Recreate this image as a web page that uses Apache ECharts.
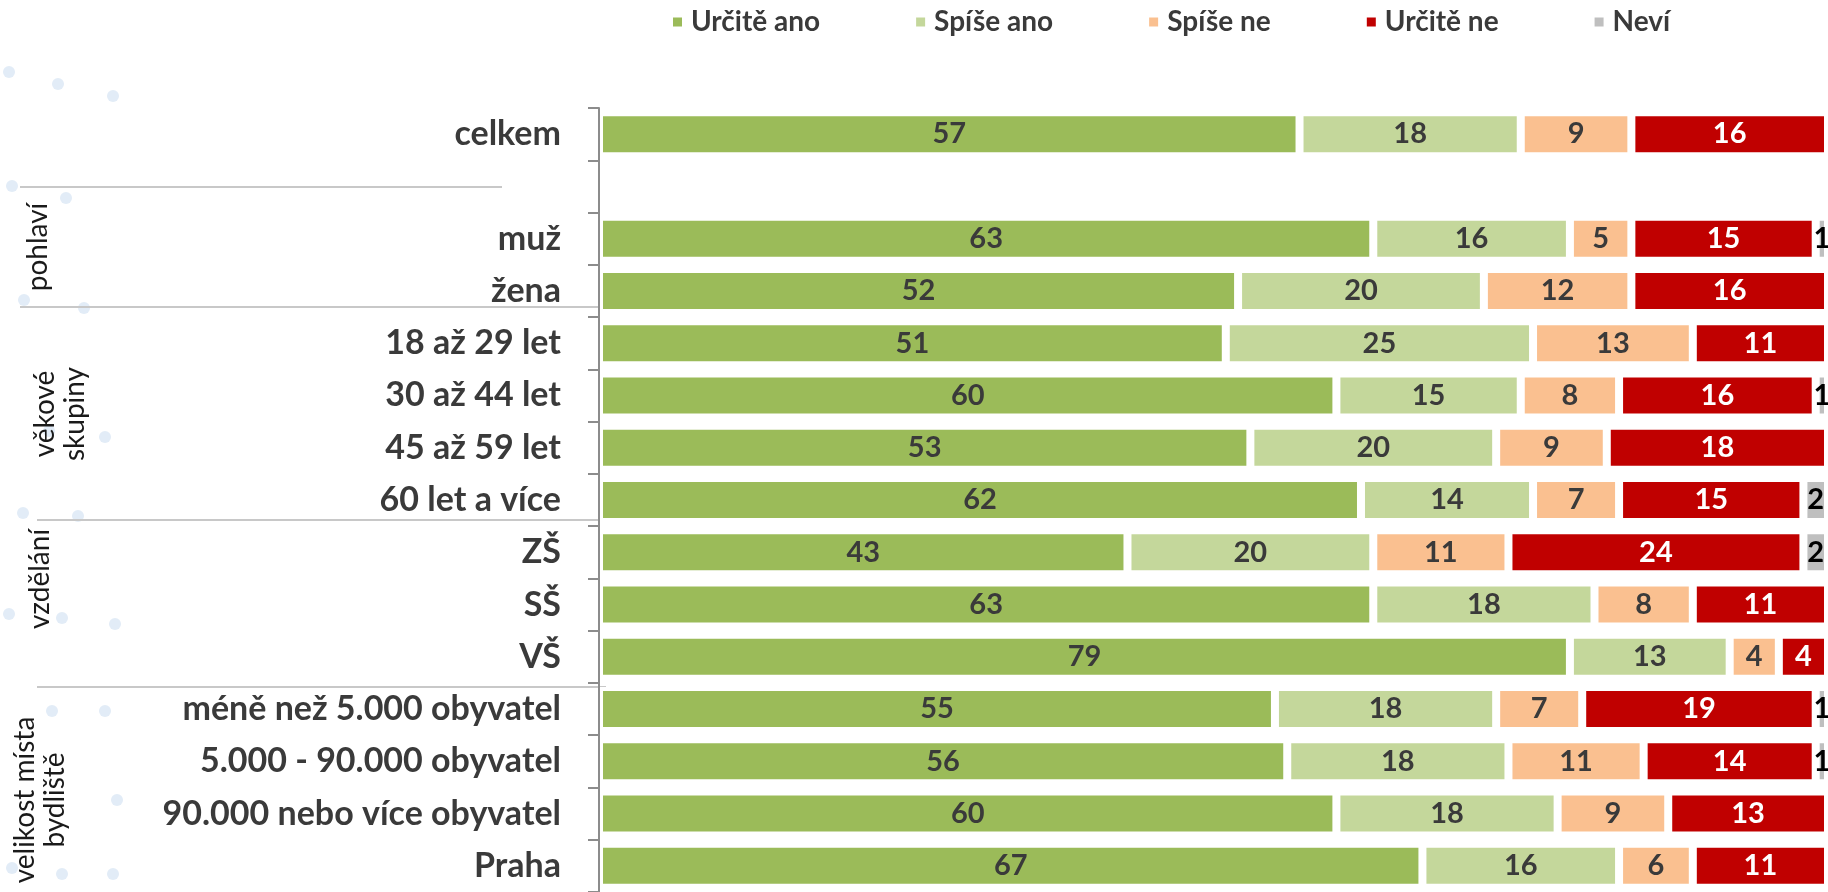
<!DOCTYPE html>
<html><head><meta charset="utf-8">
<script src="https://cdn.jsdelivr.net/npm/echarts@6/dist/echarts.min.js"></script>
<style>html,body{margin:0;padding:0;background:#fff}#c{width:1828px;height:892px}</style>
</head><body><div id="c"></div>
<script>
const categories = ['celkem', '', 'muž', 'žena', '18 až 29 let', '30 až 44 let', '45 až 59 let', '60 let a více', 'ZŠ', 'SŠ', 'VŠ', 'méně než 5.000 obyvatel', '5.000 - 90.000 obyvatel', '90.000 nebo více obyvatel', 'Praha'];
const seriesNames = ['Určitě ano', 'Spíše ano', 'Spíše ne', 'Určitě ne', 'Neví'];
const urciteAno = [57, null, 63, 52, 51, 60, 53, 62, 43, 63, 79, 55, 56, 60, 67];
const spiseAno  = [18, null, 16, 20, 25, 15, 20, 14, 20, 18, 13, 18, 18, 18, 16];
const spiseNe   = [9,  null, 5, 12, 13, 8, 9, 7, 11, 8, 4, 7, 11, 9, 6];
const urciteNe  = [16, null, 15, 16, 11, 16, 18, 15, 24, 11, 4, 19, 14, 13, 11];
const nevi      = [0,  null, 1, 0, 0, 1, 0, 2, 2, 0, 0, 1, 1, 0, 0];
const groupLabels = ['pohlaví', 'věkové\nskupiny', 'vzdělání', 'velikost místa\nbydliště'];

const seriesData = [urciteAno, spiseAno, spiseNe, urciteNe, nevi];
const colors = ['#9BBB59', '#C4D79B', '#FAC090', '#C00000', '#BFBFBF'];
const labelColors = ['#3a3a3a', '#3a3a3a', '#3a3a3a', '#FFFFFF', '#000000'];

const chart = echarts.init(document.getElementById('c'));

const dots = [[9,72],[58,84],[113,96],[12,186],[66,198],[24,300],[84,308],[49,431],[105,437],[23,513],[78,516],[9,614],[62,618],[115,624],[52,711],[105,711],[117,800],[12,868],[62,874],[113,874]];
const graphic = [];
dots.forEach(d => graphic.push({type:'circle', shape:{cx:d[0], cy:d[1], r:6}, style:{fill:'#e2ecf7'}, silent:true, z:-1}));
[[20,187,502],[20,307,598],[37,520,610],[37,687,606]].forEach(l => graphic.push({
  type:'line', shape:{x1:l[0], y1:l[1], x2:l[2], y2:l[1]}, style:{stroke:'#c8c8c8', lineWidth:2}, silent:true
}));
const glPos = [[38,247],[60,414],[40,579],[40,800]];
groupLabels.forEach((t,i) => graphic.push({
  type:'text', x: glPos[i][0], y: glPos[i][1], rotation: Math.PI/2,
  style:{text:t, fontFamily:'Lato', fontSize:28, fill:'#1a1a1a', align:'center', verticalAlign:'middle', lineHeight:30},
  silent:true
}));

chart.setOption({
  animation:false,
  legend:{
    top:8, left:671, padding:0, itemGap:94, itemWidth:11, itemHeight:11, icon:'rect',
    data: seriesNames,
    textStyle:{fontFamily:'Lato', fontWeight:'bold', fontSize:28, color:'#3a3a3a', padding:[0,0,0,3]}
  },
  grid:{left:599, top:108, width:1230, height:789},
  xAxis:{type:'value', min:0, max:100, show:false},
  yAxis:{
    type:'category', data:categories, inverse:true, z:5,
    axisLine:{show:true, lineStyle:{color:'#8c8c8c', width:2}},
    axisTick:{show:true, length:11, lineStyle:{color:'#8c8c8c', width:2}},
    axisLabel:{margin:38, fontFamily:'Lato', fontWeight:'bold', fontSize:34, color:'#3a3a3a'}
  },
  graphic: graphic,
  series: seriesNames.map((n,i) => ({
    name:n, type:'bar', stack:'total', barWidth:44,
    data: seriesData[i],
    itemStyle:{color:colors[i], borderColor:'#ffffff', borderWidth:4},
    label:{show:true, position:'inside', fontFamily:'Lato', fontWeight:'bold', fontSize:29, color:labelColors[i],
      formatter: p => p.value ? String(p.value) : ''}
  }))
});
</script></body></html>
